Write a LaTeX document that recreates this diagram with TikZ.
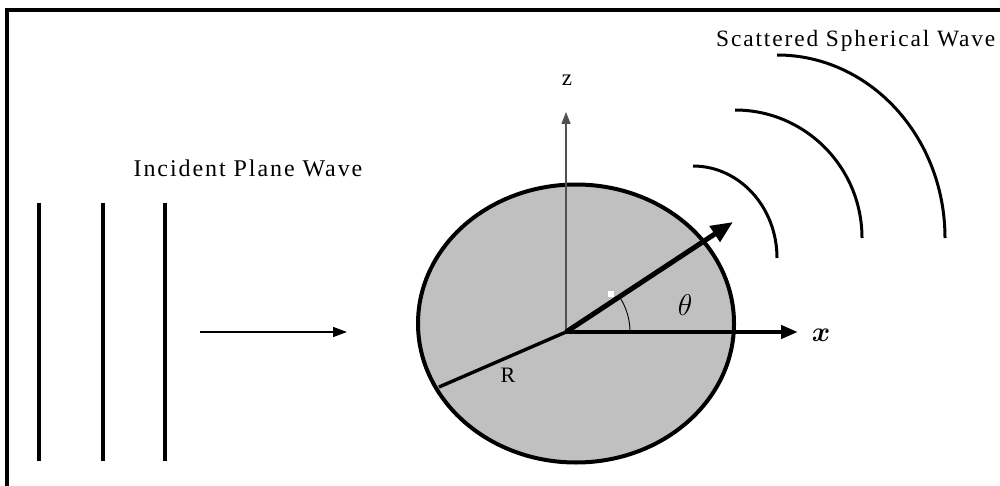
\RequirePackage{fix-cm}
\documentclass[tikz,border=0pt]{standalone}
\usepackage{fontspec}
\setmainfont{Liberation Serif}[LetterSpace=8]
\usepackage{bm}
\usetikzlibrary{arrows.meta, calc}
\definecolor{spheregray}{RGB}{192, 192, 192}
\definecolor{axisgray}{RGB}{80, 80, 80}

\begin{document}
\begin{tikzpicture}[x=1pt, y=1pt,
                wavefront/.style={line width=3.2pt},
                shell/.style={line width=3pt},
                lbl/.style={inner sep=0pt, font=\fontsize{24}{28}\selectfont}
            ]
            \useasboundingbox (0, 0) rectangle (1000, 485);

            % frame (only top and left show)
            \draw[line width=3.2pt] (7, -5) -- (7, 475) -- (1010, 475);

            % incident plane wave
            \foreach \wx in {39, 103, 165}
                \draw[wavefront] (\wx, 24) -- (\wx, 282);
            \coordinate (inA) at (200, 153);
            \coordinate (inB) at (347, 153);
            \draw[line width=1.5pt, -{Triangle[length=14pt, width=10pt]}] (inA) -- (inB);
            \node[lbl, anchor=base] (incidentlbl) at (248, 308) {Incident Plane Wave};

            % scatterer
            \draw[line width=4pt, fill=spheregray] (576, 161.5) ellipse (158 and 139);
            \coordinate (O) at (566, 153);
            \coordinate (ztip) at (566, 373);
            \coordinate (xtip) at (798, 153);
            \coordinate (ktip) at (733, 263);
            \coordinate (Rend) at (439, 98);

            \draw[axisgray, line width=1.1pt, -{Triangle[length=12pt, width=9pt]}] (O) -- (ztip);
            \node[inner sep=0pt, font=\fontsize{23}{26}\selectfont] (zlbl) at (567, 405) {z};
            \draw[line width=4.4pt, -{Triangle[length=17pt, width=13pt]}] (O) -- (xtip);
            \node[inner sep=0pt, font=\fontsize{28}{32}\selectfont] (xlbl) at (821, 150) {$\bm{x}$};
            \draw[line width=5pt, -{Triangle[length=22pt, width=18pt]}] (O) -- (ktip);
            \fill[white] (608, 188) rectangle (614, 194);
            \draw[line width=3.4pt] (O) -- (Rend);
            \node[inner sep=0pt, font=\fontsize{22}{26}\selectfont] (rlbl) at (508, 110) {R};

            \draw[line width=0.9pt] ($(O)+(64, 0)$) arc[start angle=0, end angle=33.4, radius=64];
            \node[inner sep=0pt, font=\fontsize{30}{34}\selectfont] (thetalbl) at (685, 180) {$\theta$};

            % scattered spherical wave
            \draw[shell] (693, 319) arc[start angle=90, end angle=0, x radius=84, y radius=92];
            \draw[shell] (735, 375) arc[start angle=90, end angle=0, x radius=127, y radius=128];
            \draw[shell] (777, 430) arc[start angle=90, end angle=0, x radius=168, y radius=183];
            \node[inner sep=0pt, font=\fontsize{23.4}{27}\selectfont, anchor=base west] (scatterlbl)
                at (716, 438) {Scattered Spherical Wave};
\end{tikzpicture}
\end{document}
